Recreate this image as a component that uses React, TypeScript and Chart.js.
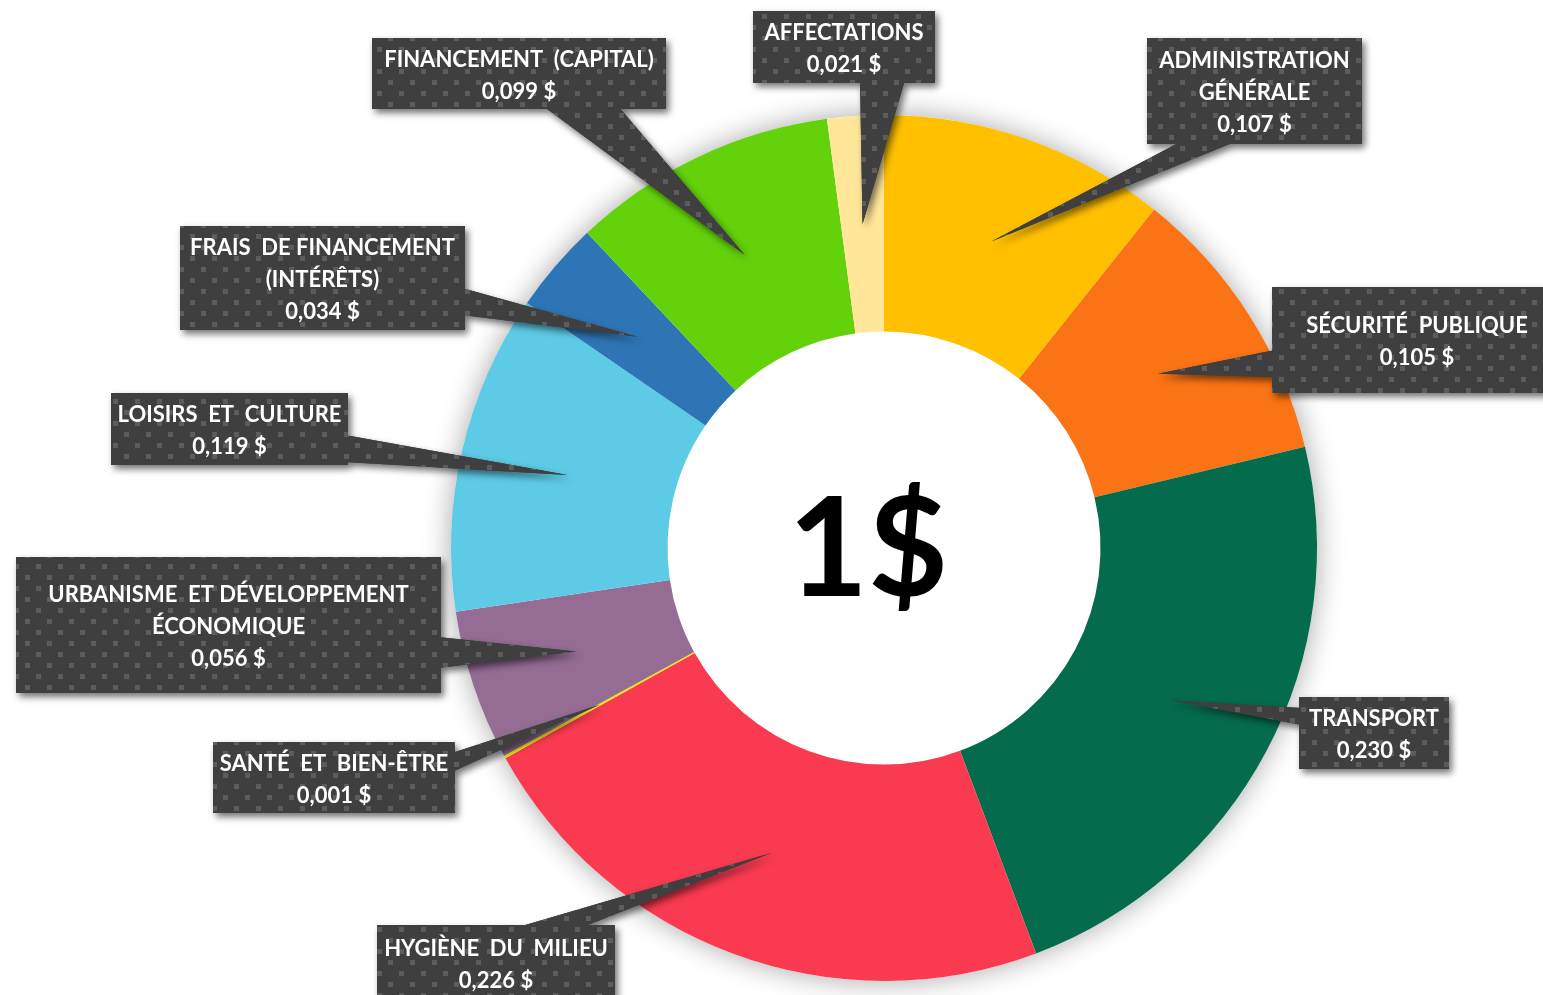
import React, { useEffect, useRef } from "react";
import { Chart, registerables } from "chart.js";

Chart.register(...registerables);

// ---- data ----
const categories: string[][] = [
  ["ADMINISTRATION", "GÉNÉRALE"],
  ["SÉCURITÉ  PUBLIQUE"],
  ["TRANSPORT"],
  ["HYGIÈNE  DU  MILIEU"],
  ["SANTÉ  ET  BIEN-ÊTRE"],
  ["URBANISME  ET DÉVELOPPEMENT", "ÉCONOMIQUE"],
  ["LOISIRS  ET  CULTURE"],
  ["FRAIS  DE FINANCEMENT", "(INTÉRÊTS)"],
  ["FINANCEMENT  (CAPITAL)"],
  ["AFFECTATIONS"],
];
const values: number[] = [0.107, 0.105, 0.23, 0.226, 0.001, 0.056, 0.119, 0.034, 0.099, 0.021];
const colors: string[] = [
  "#FFC000",
  "#FA7314",
  "#056B4D",
  "#F93A50",
  "#F2E600",
  "#946C94",
  "#5DCAE6",
  "#2E75B6",
  "#63D20B",
  "#FFE699",
];
const centerText = "1$";

// ---- callout layout (box: x, y, w, h ; pointer base: x1, y1, x2, y2) ----
const calloutBoxes: number[][] = [
  [1147, 38, 215, 106],
  [1272, 287, 290, 106],
  [1299, 697, 150, 72],
  [377, 925, 238, 75],
  [213, 742, 242, 71],
  [16, 557, 425, 136],
  [111, 393, 237, 72],
  [180, 226, 285, 104],
  [372, 38, 294, 71],
  [753, 11, 182, 72],
];
const calloutBases: number[][] = [
  [1182, 144, 1237, 144],
  [1272, 350, 1272, 377],
  [1299, 708, 1299, 725],
  [515, 925, 580, 925],
  [455, 753, 455, 772],
  [441, 637, 441, 668],
  [348, 435, 348, 465],
  [465, 288, 465, 315],
  [543, 109, 618, 109],
  [860, 83, 905, 83],
];

const fmt = (v: number) => v.toFixed(3).replace(".", ",") + " $";

function makePattern(ctx: CanvasRenderingContext2D) {
  const c = document.createElement("canvas");
  c.width = 22;
  c.height = 22;
  const p = c.getContext("2d")!;
  p.fillStyle = "#3f3f3f";
  p.fillRect(0, 0, 22, 22);
  p.fillStyle = "#5c5c5c";
  p.fillRect(3, 3, 5, 5);
  p.fillRect(14, 14, 5, 5);
  return ctx.createPattern(c, "repeat")!;
}

function calloutPath(ctx: CanvasRenderingContext2D, box: number[], base: number[], tip: { x: number; y: number }) {
  const [bx, by, bw, bh] = box;
  let [x1, y1, x2, y2] = base;
  const inset = (x: number, y: number) => {
    let nx = x, ny = y;
    if (Math.abs(y - by) < 0.5) ny = y + 3;
    else if (Math.abs(y - (by + bh)) < 0.5) ny = y - 3;
    if (Math.abs(x - bx) < 0.5) nx = x + 3;
    else if (Math.abs(x - (bx + bw)) < 0.5) nx = x - 3;
    return [nx, ny];
  };
  [x1, y1] = inset(x1, y1);
  [x2, y2] = inset(x2, y2);
  const area = x1 * tip.y - tip.x * y1 + tip.x * y2 - x2 * tip.y + x2 * y1 - x1 * y2;
  if (area < 0) {
    [x1, y1, x2, y2] = [x2, y2, x1, y1];
  }
  ctx.moveTo(bx, by);
  ctx.lineTo(bx + bw, by);
  ctx.lineTo(bx + bw, by + bh);
  ctx.lineTo(bx, by + bh);
  ctx.closePath();
  ctx.moveTo(x1, y1);
  ctx.lineTo(tip.x, tip.y);
  ctx.lineTo(x2, y2);
  ctx.closePath();
}

const ringShadow = {
  id: "ringShadow",
  beforeDatasetsDraw(chart: any) {
    const arc: any = chart.getDatasetMeta(0).data[0];
    if (!arc) return;
    const { x, y, outerRadius } = arc;
    const ctx: CanvasRenderingContext2D = chart.ctx;
    ctx.save();
    ctx.shadowColor = "rgba(0,0,0,0.35)";
    ctx.shadowBlur = 28;
    ctx.fillStyle = "#ffffff";
    ctx.beginPath();
    ctx.arc(x, y, outerRadius, 0, Math.PI * 2);
    ctx.fill();
    ctx.restore();
  },
};

const callouts = {
  id: "callouts",
  afterDatasetsDraw(chart: any) {
    const ctx: CanvasRenderingContext2D = chart.ctx;
    const meta = chart.getDatasetMeta(0);
    const pattern = makePattern(ctx);
    const tips = meta.data.map((a: any) => a.getCenterPoint());

    ctx.save();
    ctx.shadowColor = "rgba(0,0,0,0.55)";
    ctx.shadowBlur = 7;
    ctx.shadowOffsetX = 3;
    ctx.shadowOffsetY = 4;
    ctx.fillStyle = "#404040";
    values.forEach((_, i) => {
      ctx.beginPath();
      calloutPath(ctx, calloutBoxes[i], calloutBases[i], tips[i]);
      ctx.fill("nonzero");
    });
    ctx.restore();

    ctx.save();
    ctx.fillStyle = pattern;
    values.forEach((_, i) => {
      ctx.beginPath();
      calloutPath(ctx, calloutBoxes[i], calloutBases[i], tips[i]);
      ctx.fill("nonzero");
    });
    ctx.restore();

    ctx.save();
    ctx.fillStyle = "#ffffff";
    ctx.font = "bold 22px Lato";
    ctx.textAlign = "center";
    ctx.textBaseline = "middle";
    values.forEach((v, i) => {
      const [bx, by, bw, bh] = calloutBoxes[i];
      const lines = [...categories[i], fmt(v)];
      const cx = bx + bw / 2;
      const cy = by + bh / 2 + 2;
      lines.forEach((ln, j) => {
        ctx.fillText(ln, cx, cy + (j - (lines.length - 1) / 2) * 32);
      });
    });
    ctx.restore();
  },
  afterDraw(chart: any) {
    const arc: any = chart.getDatasetMeta(0).data[0];
    if (!arc) return;
    const ctx: CanvasRenderingContext2D = chart.ctx;
    ctx.save();
    ctx.fillStyle = "#000000";
    ctx.font = "bold 138px Lato";
    ctx.textAlign = "center";
    ctx.textBaseline = "alphabetic";
    ctx.fillText(centerText, arc.x - 16, arc.y + 48);
    ctx.restore();
  },
};

export default function App() {
  const ref = useRef<HTMLCanvasElement>(null);
  useEffect(() => {
    if (!ref.current) return;
    const chart = new Chart(ref.current, {
      type: "doughnut",
      data: {
        labels: categories.map((c) => c.join(" ")),
        datasets: [
          {
            data: values,
            backgroundColor: colors,
            borderWidth: 0,
          },
        ],
      },
      options: {
        responsive: false,
        animation: false,
        cutout: "50%",
        rotation: 0,
        layout: { padding: { left: 451, right: 226, top: 115, bottom: 14 } },
        plugins: {
          legend: { display: false },
          tooltip: { enabled: false },
        },
      },
      plugins: [ringShadow, callouts],
    });
    return () => chart.destroy();
  }, []);
  return (
    <div style={{ position: "absolute", left: 0, top: 0, width: 1543, height: 995, background: "#fff" }}>
      <canvas ref={ref} width={1543} height={995} style={{ width: 1543, height: 995, display: "block" }} />
    </div>
  );
}
